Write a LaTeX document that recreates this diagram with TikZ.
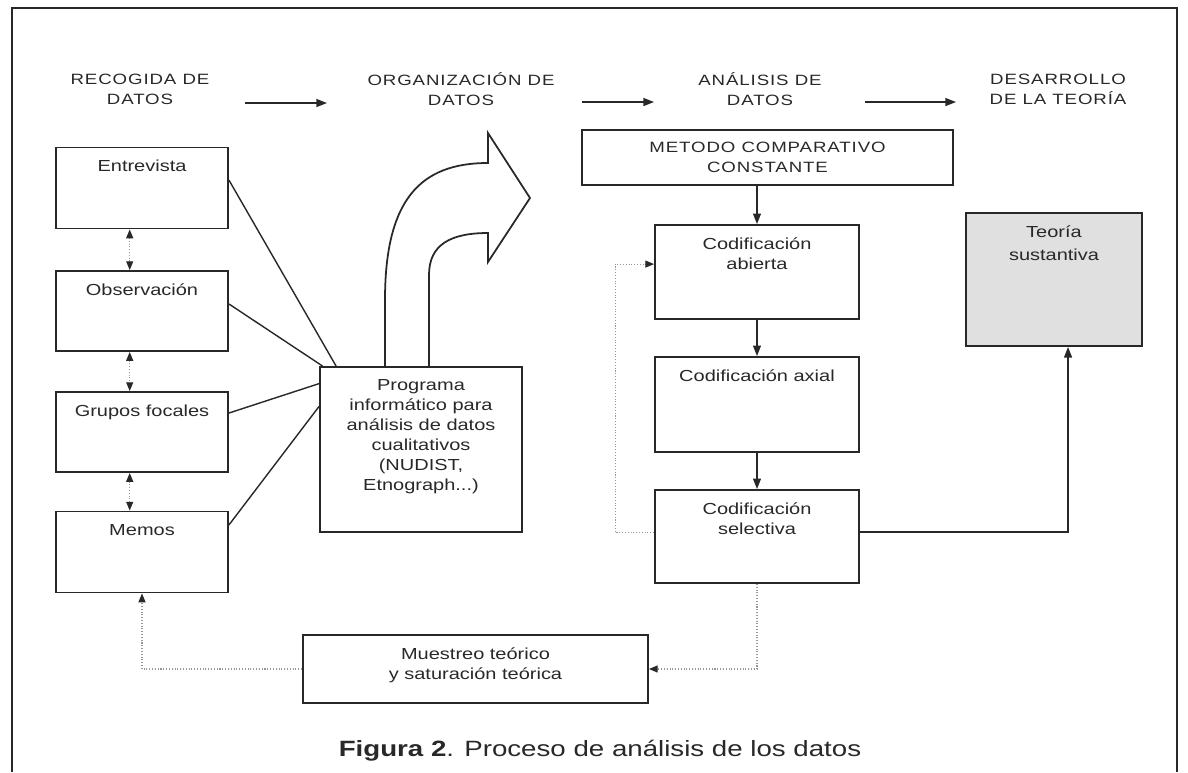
\documentclass[tikz,border=0pt]{standalone}
\usepackage{fontspec}
\setmainfont{Liberation Sans}[FakeStretch=1.25]
\newfontfamily\headfont{Liberation Sans}[FakeStretch=1.25, LetterSpace=6]
\usepackage{tikz}
\usetikzlibrary{arrows.meta, positioning, calc}
\definecolor{inkgray}{RGB}{40,40,40}
\definecolor{dotgray}{RGB}{150,150,150}
\definecolor{stonegray}{RGB}{224,224,224}

\tikzset{
    box/.style={draw=inkgray, line width=1.1pt, inner sep=0pt},
    boxtxt/.style={anchor=north, inner sep=0pt, align=center, text=inkgray, font=\fontsize{9.1}{11.4}\selectfont},
    heading/.style={align=center, inner sep=0pt, text=inkgray, font=\headfont\fontsize{8.5}{11.4}\selectfont},
    link/.style={draw=inkgray, line width=0.8pt},
    flow/.style={link, -{Triangle[length=6pt, width=4.5pt]}},
    loopback/.style={draw=dotgray, line width=0.6pt, densely dotted, -{Triangle[length=5pt, width=4pt, color=inkgray]}},
    twoway/.style={loopback, {Triangle[length=5pt, width=4pt, color=inkgray]}-{Triangle[length=5pt, width=4pt, color=inkgray]}}
}

\begin{document}
\begin{tikzpicture}[x=0.02cm, y=-0.02cm]
    \useasboundingbox (0,0) rectangle (1188,772);
    % Frame
    \draw[inkgray, line width=1pt] (12,772) -- (12,8) -- (1177,8) -- (1177,772);

    % Stages
    \node[heading] (recogida) at (140,89) {RECOGIDA DE\\DATOS};
    \node[heading] (organizacion) at (461,89) {ORGANIZACIÓN DE\\DATOS};
    \node[heading] (analisis) at (760,89) {ANÁLISIS DE\\DATOS};
    \node[heading] (desarrollo) at (1058,89) {DESARROLLO\\DE LA TEORÍA};
    \draw[flow] ($(recogida)+(105,14)$) -- ($(organizacion)+(-134,14)$);
    \draw[flow] ($(organizacion)+(121,13)$) -- ($(analisis)+(-106,13)$);
    \draw[flow] ($(analisis)+(105,13)$) -- ($(desarrollo)+(-102,13)$);

    % Data collection
    \node[box, minimum width=3.44cm, minimum height=1.62cm] (entrevista) at (142,188) {};
    \node[boxtxt] (entrevista-t) at ([yshift=-7.5pt]entrevista.north) {Entrevista};
    \node[box, minimum width=3.44cm, minimum height=1.6cm] (observacion) at (142,311) {};
    \node[boxtxt] (observacion-t) at ([yshift=-7.5pt]observacion.north) {Observación};
    \node[box, minimum width=3.44cm, minimum height=1.6cm] (grupos) at (142,432) {};
    \node[boxtxt] (grupos-t) at ([yshift=-7.5pt]grupos.north) {Grupos focales};
    \node[box, minimum width=3.44cm, minimum height=1.62cm] (memos) at (142,552) {};
    \node[boxtxt] (memos-t) at ([yshift=-7.5pt]memos.north) {Memos};
    \draw[twoway] ([xshift=-7pt]entrevista.south) -- ([xshift=-7pt]observacion.north);
    \draw[twoway] ([xshift=-7pt]observacion.south) -- ([xshift=-7pt]grupos.north);
    \draw[twoway] ([xshift=-7pt]grupos.south) -- ([xshift=-7pt]memos.north);

    % Software
    \node[box, minimum width=4.04cm, minimum height=3.3cm] (programa) at (421,449.5) {};
    \node[boxtxt] (programa-t) at ([yshift=-7.5pt]programa.north) {Programa\\informático para\\análisis de datos\\cualitativos\\(NUDIST,\\Etnograph...)};
    \draw[link] ([yshift=4.5pt]entrevista.east) -- ([xshift=9.7pt]programa.north west);
    \draw[link] ([yshift=4pt]observacion.east) -- ([xshift=2pt]programa.north west);
    \draw[link] ([yshift=10.8pt]grupos.east) -- ([yshift=-10pt]programa.north west);
    \draw[link] ([yshift=15.4pt]memos.east) -- ([yshift=-23pt]programa.north west);
    % big curved arrow
    \draw[inkgray, line width=1pt] (385,367) -- (385,300) .. controls (385,200) and (420,163) .. (488,163)
        -- (488,133) -- (530,198) -- (488,262) -- (488,233)
        .. controls (450,233) and (429,245) .. (429,275) -- (429,367);

    % Analysis
    \node[box, minimum width=7.42cm, minimum height=1.1cm, align=center, text=inkgray,
          font=\headfont\fontsize{8.5}{11.4}\selectfont] (metodo) at (767.5,157.5) {METODO COMPARATIVO\\CONSTANTE};
    \node[box, minimum width=4.08cm, minimum height=1.88cm] (abierta) at (757,272) {};
    \node[boxtxt] (abierta-t) at ([yshift=-7.5pt]abierta.north) {Codificación\\abierta};
    \node[box, minimum width=4.08cm, minimum height=1.9cm] (axial) at (757,404.5) {};
    \node[boxtxt] (axial-t) at ([yshift=-7.5pt]axial.north) {Codificación axial};
    \node[box, minimum width=4.08cm, minimum height=1.86cm] (selectiva) at (757,536.5) {};
    \node[boxtxt] (selectiva-t) at ([yshift=-7.5pt]selectiva.north) {Codificación\\selectiva};
    \draw[flow] (metodo.south -| abierta.north) -- (abierta.north);
    \draw[flow] (abierta) -- (axial);
    \draw[flow] (axial) -- (selectiva);
    \draw[loopback] ([yshift=2.5pt]selectiva.west) -- ++(-39,0) |- ([yshift=4.5pt]abierta.west);

    % Theory
    \node[box, fill=stonegray, minimum width=3.52cm, minimum height=2.66cm] (teoria) at (1054,279.5) {};
    \node[boxtxt, font=\fontsize{9.1}{13}\selectfont] (teoria-t) at ([yshift=-7.5pt]teoria.north) {Teoría\\sustantiva};
    \draw[flow] ([yshift=2.5pt]selectiva.east) -| ([xshift=8pt]teoria.south);

    % Sampling
    \node[box, minimum width=6.9cm, minimum height=1.36cm] (muestreo) at (475.5,669) {};
    \node[boxtxt] (muestreo-t) at ([yshift=-7.5pt]muestreo.north) {Muestreo teórico\\y saturación teórica};
    \draw[loopback] (selectiva.south) |- (muestreo.east);
    \draw[loopback] (muestreo.west) -| (memos.south);

    % Caption
    \node[text=inkgray, font=\fontsize{12.6}{15}\selectfont] (caption) at (600,751) {\textbf{Figura 2}. Proceso de análisis de los datos};
\end{tikzpicture}
\end{document}
